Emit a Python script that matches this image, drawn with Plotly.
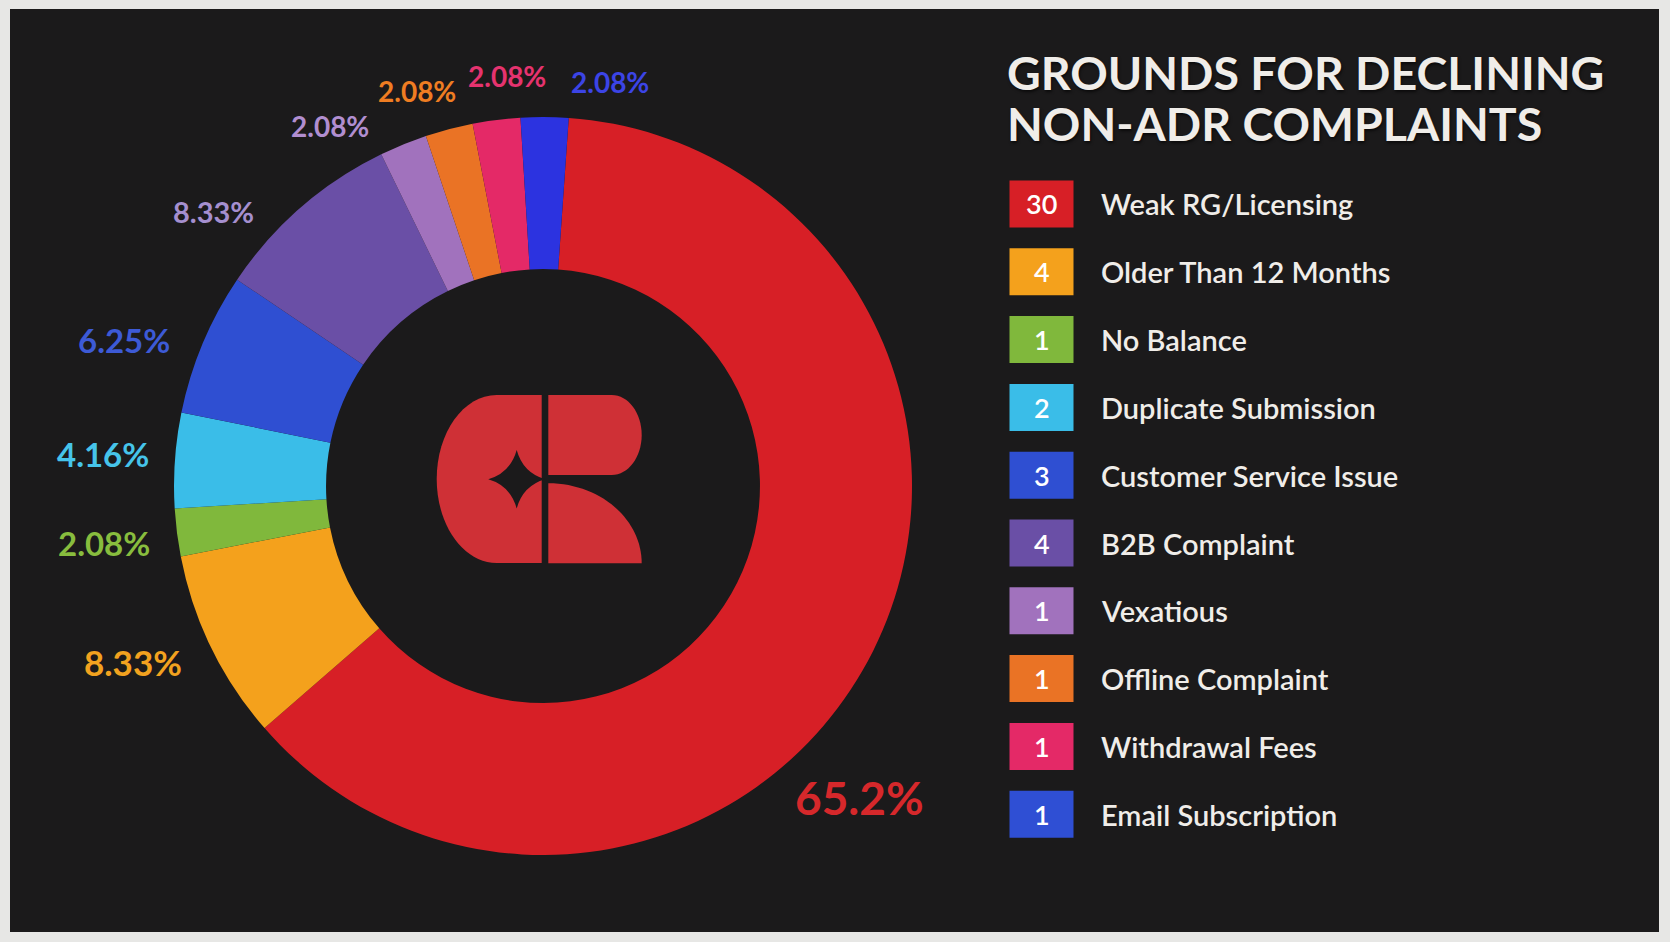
# Donut chart: grounds for declining non-ADR complaints
import plotly.graph_objects as go

W, H = 1670, 942

# data
categories = ["Weak RG/Licensing", "Older Than 12 Months", "No Balance",
              "Duplicate Submission", "Customer Service Issue", "B2B Complaint",
              "Vexatious", "Offline Complaint", "Withdrawal Fees", "Email Subscription"]
counts = [30, 4, 1, 2, 3, 4, 1, 1, 1, 1]
pct_labels = ["65.2%", "8.33%", "2.08%", "4.16%", "6.25%",
              "8.33%", "2.08%", "2.08%", "2.08%", "2.08%"]
title_lines = ["GROUNDS FOR DECLINING", "NON-ADR COMPLAINTS"]

# styles
slice_colors = ["#d71f26", "#f4a11c", "#80b83c", "#3abde8", "#2f4fd2",
                "#6a4fa6", "#a172bd", "#ea7325", "#e42967", "#2c33e0"]
legend_colors = ["#d71f26", "#f4a11c", "#80b83c", "#3abde8", "#2f4fd2",
                 "#6a4fa6", "#a172bd", "#ea7325", "#e42967", "#2f4fd4"]
label_colors = ["#d6282b", "#f2a21f", "#88bd3e", "#46c4ea", "#3d5ad6",
                "#a58fcf", "#b18ed0", "#ef7d22", "#e6336f", "#3c44e6"]
label_xy = [(860, 797), (133, 662), (104, 543), (103, 454), (124, 340),
            (213, 211), (330, 126), (417, 91), (507, 76), (610, 82)]
label_size = [46, 35, 33, 33, 33, 29, 28, 28, 28, 28]

BG = "#1b1a1b"
FRAME = "#e7e7e5"
TEXT = "#f0ede9"
LOGO = "#cf3036"
FONT = "Lato"

cx, cy, R = 543, 486, 369   # donut centre / radius in pixels


def px(x):
    return x / W


def py(y):
    return 1 - y / H


fig = go.Figure()

fig.add_trace(go.Pie(
    labels=categories, values=counts,
    sort=False, direction="clockwise", rotation=4,
    hole=0.588,
    marker=dict(colors=slice_colors, line=dict(width=0)),
    textinfo="none", hoverinfo="label+value",
    showlegend=False,
    domain=dict(x=[px(cx - R), px(cx + R)], y=[py(cy + R), py(cy - R)]),
))

shapes = []
annotations = []

# dark panel inside the light frame
shapes.append(dict(type="rect", xref="paper", yref="paper", layer="below",
                   x0=px(10), x1=px(1659), y0=py(932), y1=py(9),
                   fillcolor=BG, line=dict(width=0)))


# logo in the hole (pixel coordinates converted to paper)
def path(points):
    out = ""
    for cmd, coords in points:
        out += cmd
        if coords:
            out += " " + " ".join(f"{px(coords[i]):.5f},{py(coords[i + 1]):.5f}"
                                  for i in range(0, len(coords), 2))
        out += " "
    return out


k = 0.5523
# left piece
lx0, lx1, ly0, ly1, lcx = 436.7, 541.7, 395, 563, 496.7
lmid = (ly0 + ly1) / 2
rx_, ry_ = lcx - lx0, lmid - ly0
left_piece = path([
    ("M", [lx1, ly0]), ("L", [lcx, ly0]),
    ("C", [lcx - k * rx_, ly0, lx0, lmid - k * ry_, lx0, lmid]),
    ("C", [lx0, lmid + k * ry_, lcx - k * rx_, ly1, lcx, ly1]),
    ("L", [lx1, ly1]), ("Z", [])])
# top right bowl
tx0, tx1, ty0, ty1 = 548.3, 641.7, 395, 475
tr = 30
tmid = (ty0 + ty1) / 2
th = tmid - ty0
top_piece = path([
    ("M", [tx0, ty0]), ("L", [tx1 - tr, ty0]),
    ("C", [tx1 - tr + k * tr, ty0, tx1, tmid - k * th, tx1, tmid]),
    ("C", [tx1, tmid + k * th, tx1 - tr + k * tr, ty1, tx1 - tr, ty1]),
    ("L", [tx0, ty1]), ("Z", [])])
# bottom right leg (quarter ellipse)
bx0, bx1, by0, by1 = 548.3, 641.7, 483.3, 563.3
bottom_piece = path([
    ("M", [bx0, by0]),
    ("C", [bx0 + k * (bx1 - bx0), by0, bx1, by1 - k * (by1 - by0), bx1, by1]),
    ("L", [bx0, by1]), ("Z", [])])
# four point star cut-out
sx, sy, sw, sh = 516.7, 479.3, 28.4, 29.2
c = 0.22
star = path([
    ("M", [sx - sw, sy]),
    ("Q", [sx - c * sw, sy - c * sh, sx, sy - sh]),
    ("Q", [sx + c * sw, sy - c * sh, sx + sw, sy]),
    ("Q", [sx + c * sw, sy + c * sh, sx, sy + sh]),
    ("Q", [sx - c * sw, sy + c * sh, sx - sw, sy]),
    ("Z", [])])

for p, col in [(left_piece, LOGO), (top_piece, LOGO), (bottom_piece, LOGO), (star, BG)]:
    shapes.append(dict(type="path", xref="paper", yref="paper", path=p,
                       fillcolor=col, line=dict(width=0), layer="above"))

# percentage labels round the donut
for txt, col, (x, y), s in zip(pct_labels, label_colors, label_xy, label_size):
    annotations.append(dict(
        x=px(x), y=py(y), xref="paper", yref="paper", text=txt, showarrow=False,
        xanchor="center", yanchor="middle",
        font=dict(family=FONT, size=s, color=col, weight="bold")))

# title
for i, line in enumerate(title_lines):
    annotations.append(dict(
        x=px(1005), y=py(72 + i * 51), xref="paper", yref="paper", text=line,
        showarrow=False, xanchor="left", yanchor="middle",
        font=dict(family=FONT, size=46.5, color=TEXT, weight="bold",
                  shadow="1px 2px 3px rgba(0,0,0,0.6)")))

# legend: coloured box with the count, then the category name
for i, (name, n, col) in enumerate(zip(categories, counts, legend_colors)):
    yc = 204 + i * 67.8
    shapes.append(dict(type="rect", xref="paper", yref="paper",
                       x0=px(1009.5), x1=px(1073.5), y0=py(yc + 23.5), y1=py(yc - 23.5),
                       fillcolor=col, line=dict(width=0), layer="above"))
    annotations.append(dict(
        x=px(1041.5), y=py(yc), xref="paper", yref="paper", text=str(n),
        showarrow=False, xanchor="center", yanchor="middle",
        font=dict(family=FONT, size=27, color="#ffffff", weight=600)))
    annotations.append(dict(
        x=px(1099), y=py(yc), xref="paper", yref="paper", text=name,
        showarrow=False, xanchor="left", yanchor="middle",
        font=dict(family=FONT, size=29, color=TEXT, weight=600)))

fig.update_layout(
    width=W, height=H,
    margin=dict(l=0, r=0, t=0, b=0),
    paper_bgcolor=FRAME, plot_bgcolor=FRAME,
    shapes=shapes, annotations=annotations,
    font=dict(family=FONT),
)

fig.write_html("out.html", config={"displayModeBar": False},
               post_script="document.body.style.margin='0';document.body.style.overflow='hidden';")
